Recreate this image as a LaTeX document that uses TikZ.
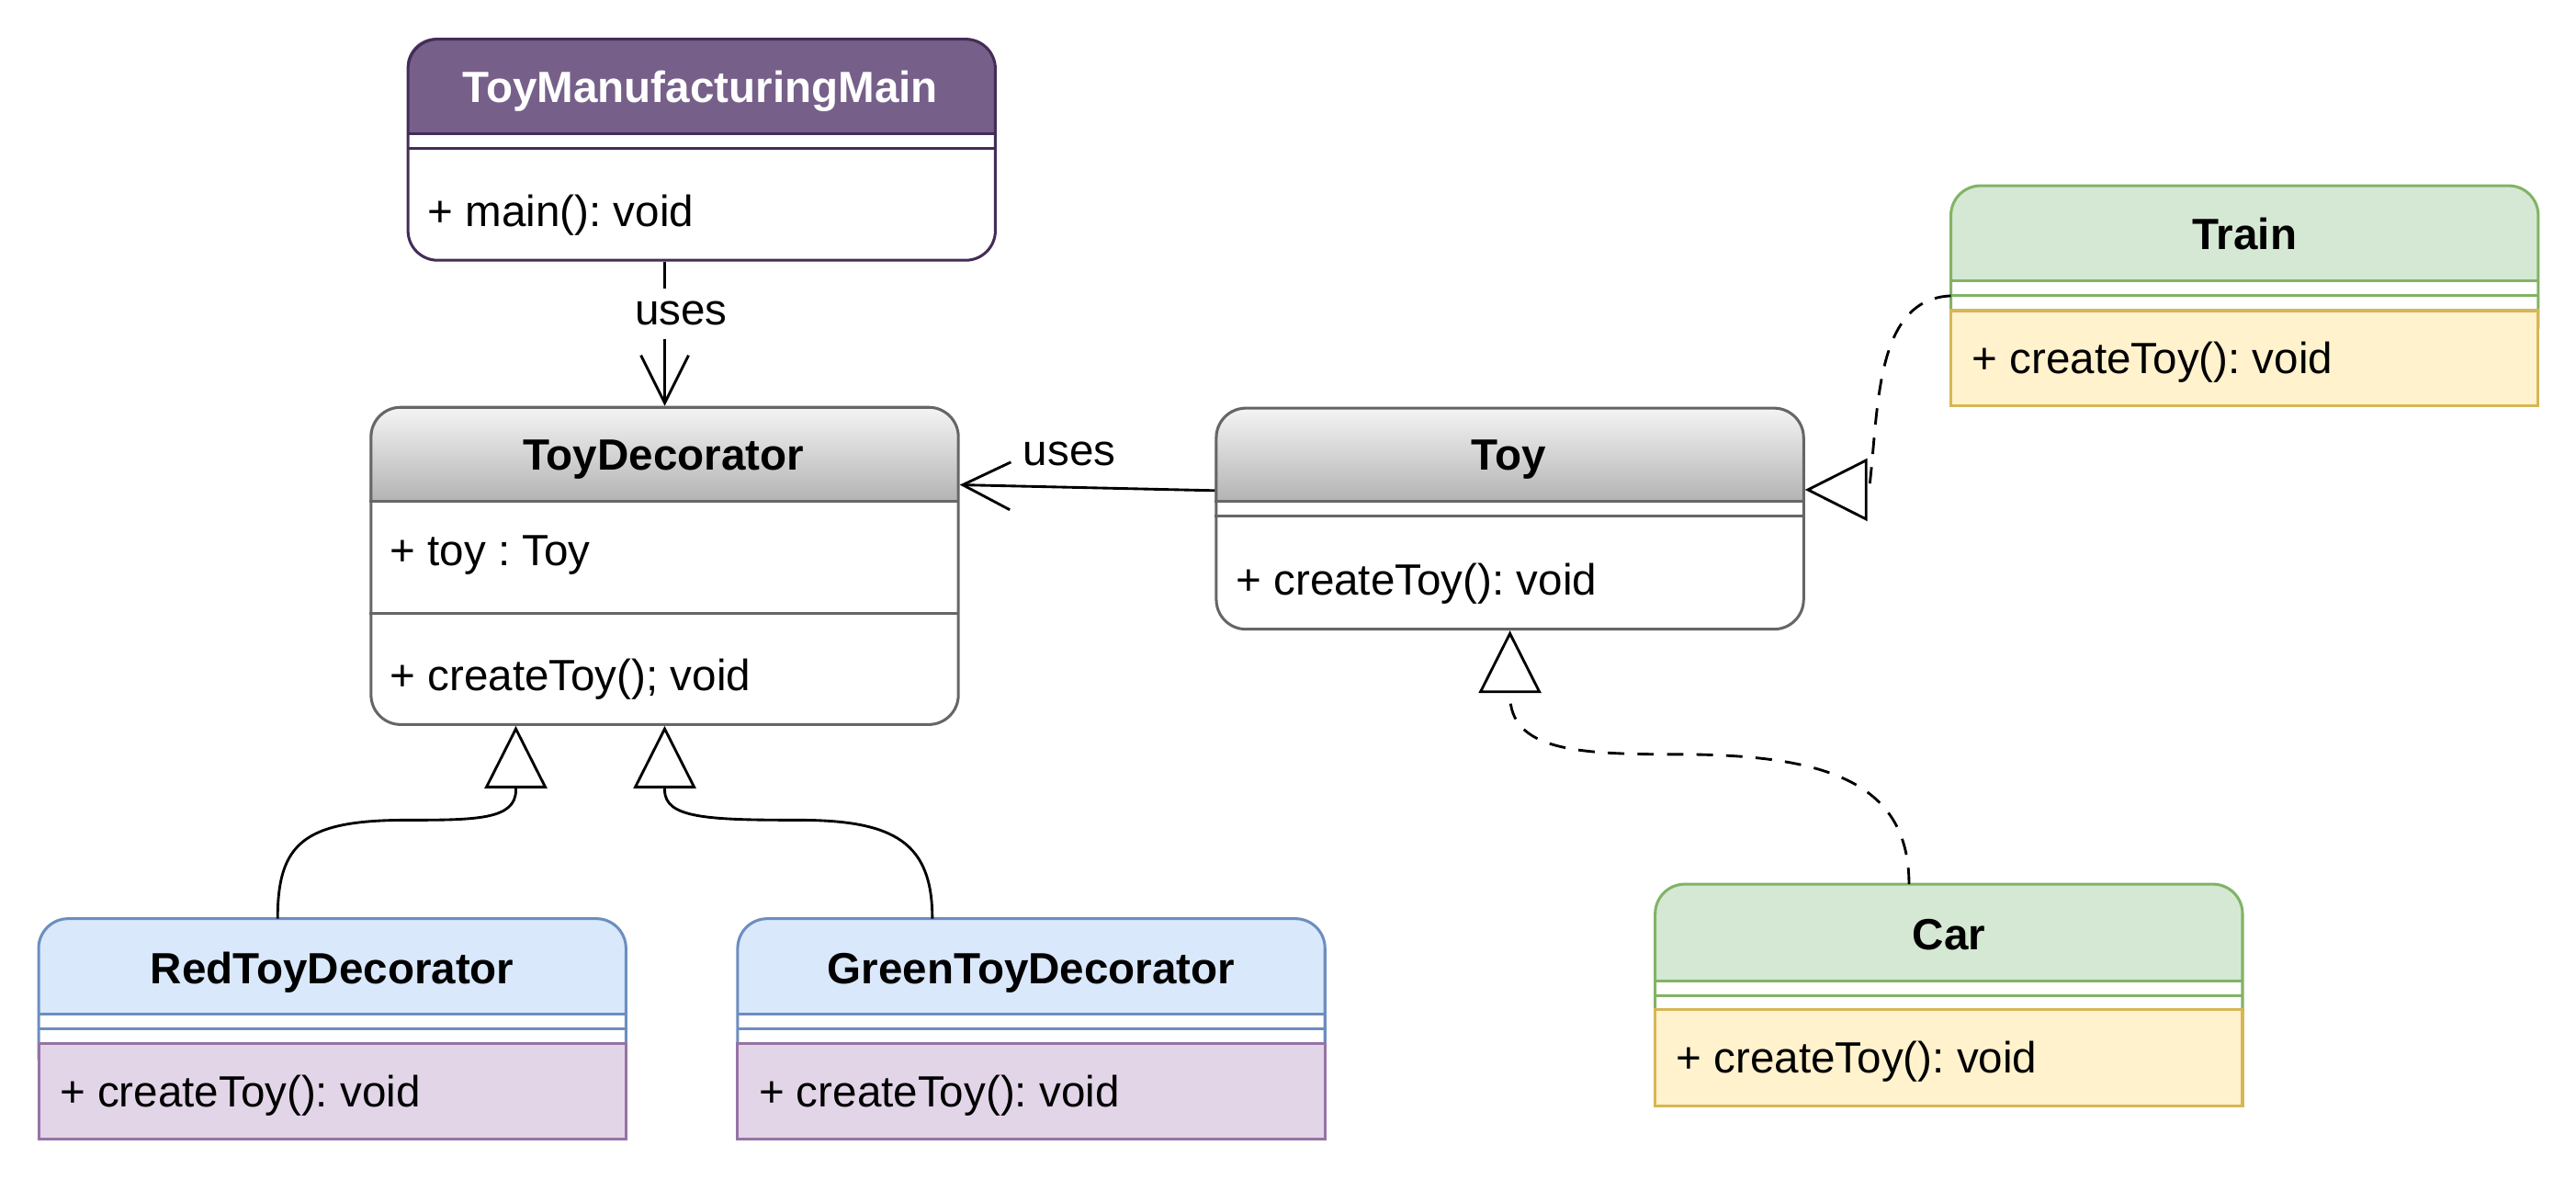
\documentclass[tikz,border=0pt]{standalone}
\usepackage{fontspec}
\setmainfont{Liberation Sans}
\usetikzlibrary{arrows.meta,calc}
\definecolor{purpH}{HTML}{76608A}
\definecolor{purpS}{HTML}{432D57}
\definecolor{grayS}{HTML}{666666}
\definecolor{grayT}{HTML}{F5F5F5}
\definecolor{grayB}{HTML}{B3B3B3}
\definecolor{greenF}{HTML}{D5E8D4}
\definecolor{greenS}{HTML}{82B366}
\definecolor{yelF}{HTML}{FFF2CC}
\definecolor{yelS}{HTML}{D6B656}
\definecolor{blueF}{HTML}{DAE8FC}
\definecolor{blueS}{HTML}{6C8EBF}
\definecolor{lilF}{HTML}{E1D5E7}
\definecolor{lilS}{HTML}{9673A6}
\frenchspacing
\begin{document}
\begin{tikzpicture}[x=0.5pt,y=-0.5pt,
  boxnode/.style={rectangle, anchor=north west, inner sep=0pt, minimum width=178.75pt, rounded corners=9pt, line width=0.85pt},
  opentop/.style={line width=0.85pt, rounded corners=9pt},
  sepline/.style={line width=0.85pt},
  itembox/.style={line width=0.85pt},
  ctitle/.style={font=\fontsize{13.3}{16}\selectfont\bfseries, anchor=base, inner sep=0pt},
  member/.style={font=\fontsize{13.3}{16}\selectfont, anchor=base west, inner sep=0pt},
  lbl/.style={font=\fontsize{13.3}{16}\selectfont},
  conn/.style={line width=0.8pt, draw=black},
  usesarrow/.style={-{Straight Barb[length=14.5pt,width=14.5pt]}},
  inherit/.style={-{Triangle[open,length=19pt,width=19pt]}},
  dashline/.style={dash pattern=on 5pt off 4pt}
]
\fill[white] (0,0) rectangle (1568,724.7);
\useasboundingbox (0,0) rectangle (1568,724.7);

% ---- ToyManufacturingMain
\begin{scope}
\clip[rounded corners=9pt] (247.5,23) rectangle (605,157.5);
\fill[purpH] (247.5,23) rectangle (605,81.5);
\end{scope}
\node[boxnode, draw=purpS, minimum height=67.25pt] (main) at (247.5,23) {};
\draw[sepline, purpS] (247.5,81.5) -- (605,81.5) (247.5,90.5) -- (605,90.5);
\node[ctitle, text=white] (mainT) at (426.25,62.5) {ToyManufacturingMain};
\node[member] (mainM) at (260,138) {+ main(): void};

% ---- ToyDecorator
\begin{scope}
\clip[rounded corners=9pt] (225,247) rectangle (582.5,440);
\shade[top color=grayT, bottom color=grayB] (225,247) rectangle (582.5,305);
\end{scope}
\node[boxnode, draw=grayS, minimum height=96.5pt] (dec) at (225,247) {};
\draw[sepline, grayS] (225,305) -- (582.5,305) (225,373) -- (582.5,373);
\node[ctitle] (decT) at (403.75,286) {ToyDecorator};
\node[member] (decA) at (237,344) {+ toy : Toy};
\node[member] (decM) at (237,420) {+ createToy(); void};

% ---- Toy
\begin{scope}
\clip[rounded corners=9pt] (739.5,247.5) rectangle (1097,382);
\shade[top color=grayT, bottom color=grayB] (739.5,247.5) rectangle (1097,305);
\end{scope}
\node[boxnode, draw=grayS, minimum height=67.25pt] (toy) at (739.5,247.5) {};
\draw[sepline, grayS] (739.5,305) -- (1097,305) (739.5,314) -- (1097,314);
\node[ctitle] (toyT) at (918.25,286) {Toy};
\node[member] (toyM) at (752,362) {+ createToy(): void};

% ---- Train
\begin{scope}
\clip[rounded corners=9pt] (1187.5,113) rectangle (1545,247);
\fill[greenF] (1187.5,113) rectangle (1545,171);
\end{scope}
\node[boxnode, minimum height=67pt] (train) at (1187.5,113) {};
\draw[opentop, greenS] (1187.5,200) -- (1187.5,113) -- (1545,113) -- (1545,200);
\draw[sepline, greenS] (1187.5,171) -- (1545,171) (1187.5,180) -- (1545,180);
\draw[itembox, fill=yelF, draw=yelS] (1187.5,189) rectangle (1545,247);
\node[ctitle] (trainT) at (1366.25,152) {Train};
\node[member] (trainM) at (1200,227.5) {+ createToy(): void};

% ---- Car
\begin{scope}
\clip[rounded corners=9pt] (1007.5,538) rectangle (1365,673);
\fill[greenF] (1007.5,538) rectangle (1365,597);
\end{scope}
\node[boxnode, minimum height=67.5pt] (car) at (1007.5,538) {};
\draw[opentop, greenS] (1007.5,625) -- (1007.5,538) -- (1365,538) -- (1365,625);
\draw[sepline, greenS] (1007.5,597) -- (1365,597) (1007.5,606) -- (1365,606);
\draw[itembox, fill=yelF, draw=yelS] (1007.5,614.5) rectangle (1365,673);
\node[ctitle] (carT) at (1186.25,578) {Car};
\node[member] (carM) at (1020,652.7) {+ createToy(): void};

% ---- RedToyDecorator
\begin{scope}
\clip[rounded corners=9pt] (23.5,559) rectangle (381,693);
\fill[blueF] (23.5,559) rectangle (381,617);
\end{scope}
\node[boxnode, minimum height=67pt] (red) at (23.5,559) {};
\draw[opentop, blueS] (23.5,645) -- (23.5,559) -- (381,559) -- (381,645);
\draw[sepline, blueS] (23.5,617) -- (381,617) (23.5,626) -- (381,626);
\draw[itembox, fill=lilF, draw=lilS] (23.5,635) rectangle (381,693);
\node[ctitle] (redT) at (202.25,598.5) {RedToyDecorator};
\node[member] (redM) at (36,673.5) {+ createToy(): void};

% ---- GreenToyDecorator
\begin{scope}
\clip[rounded corners=9pt] (449,559) rectangle (806.5,693);
\fill[blueF] (449,559) rectangle (806.5,617);
\end{scope}
\node[boxnode, minimum height=67pt] (green) at (449,559) {};
\draw[opentop, blueS] (449,645) -- (449,559) -- (806.5,559) -- (806.5,645);
\draw[sepline, blueS] (449,617) -- (806.5,617) (449,626) -- (806.5,626);
\draw[itembox, fill=lilF, draw=lilS] (449,635) rectangle (806.5,693);
\node[ctitle] (greenT) at (627.75,598.5) {GreenToyDecorator};
\node[member] (greenM) at (461.5,673.5) {+ createToy(): void};

% ---- connectors
\draw[conn, usesarrow] (dec.north |- main.south) -- node[lbl, pos=0.36, xshift=5pt, fill=white, inner xsep=0pt, inner ysep=4pt] (usesA) {uses} (dec.north);
\draw[conn, usesarrow] ($(toy.north west)+(0,51)$) -- node[lbl, pos=0.57, above=6.2pt, inner sep=0pt] (usesB) {uses} ($(dec.north east)+(0,48)$);

\draw[conn, inherit] ($(red.north west)+(145.5,0)$) .. controls +(0,-46) and +(-63,0) .. (248,499) .. controls +(42,0) and +(0,18) .. ($(dec.south west)+(89,39)$) -- ($(dec.south west)+(89,0)$);
\draw[conn, inherit] ($(green.north west)+(118.5,0)$) .. controls +(0,-46) and +(59,0) .. (486,499) .. controls +(-56,0) and +(0,17) .. ($(dec.south)+(0,39)$) -- (dec.south);

\draw[conn, dashline, inherit] ($(car.north west)+(154.5,0)$) .. controls +(0,-63) and +(90,0) .. (1020,459) .. controls +(-60,0) and +(0,34) .. ($(toy.south)+(0,39)$) -- (toy.south);
\draw[conn, dashline, inherit] ($(train.north west)+(0,67)$) .. controls +(-47,2) and +(6,-48) .. ($(toy.north east)+(39,50.5)$) -- ($(toy.north east)+(0,50.5)$);
\end{tikzpicture}
\end{document}
